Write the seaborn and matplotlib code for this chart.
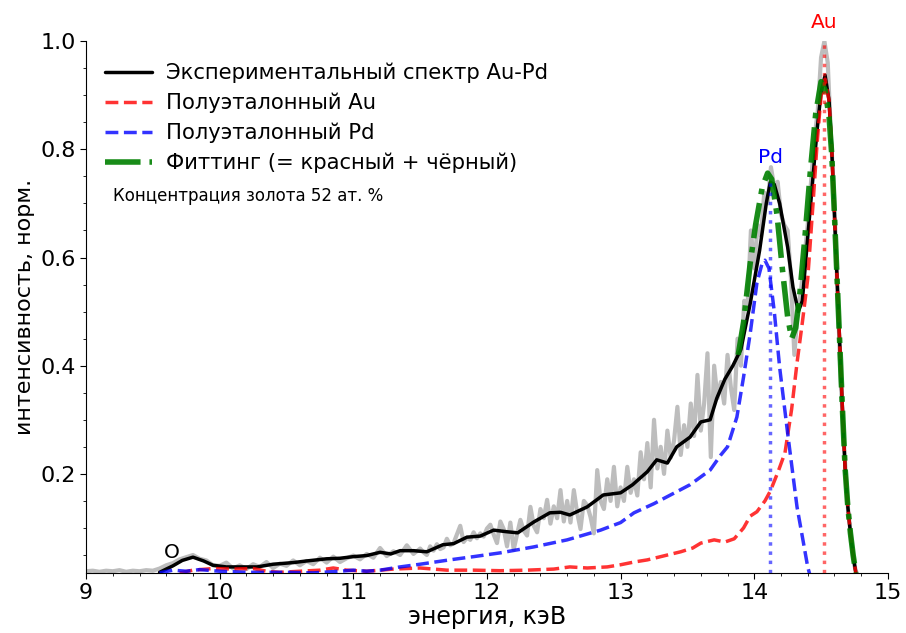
import matplotlib
matplotlib.use("Agg")
import matplotlib.pyplot as plt
from matplotlib.ticker import MultipleLocator
import seaborn as sns

# raw measured spectrum (grey, noisy)
raw_energy = [
    9.00, 9.05, 9.10, 9.15, 9.20, 9.25, 9.30, 9.35, 9.40, 9.45, 9.50,
    9.55, 9.60, 9.65, 9.70, 9.75, 9.80, 9.85, 9.90, 9.95, 10.00,
    10.05, 10.10, 10.15, 10.20, 10.25, 10.30, 10.35, 10.40, 10.45, 10.50,
    10.55, 10.60, 10.65, 10.70, 10.75, 10.80, 10.85, 10.90, 10.95, 11.00,
    11.05, 11.10, 11.15, 11.20, 11.25, 11.30, 11.35, 11.40, 11.45, 11.50,
    11.525, 11.550, 11.575, 11.600, 11.625, 11.650, 11.675, 11.700,
    11.725, 11.750, 11.775, 11.800, 11.825, 11.850, 11.875, 11.900,
    11.925, 11.950, 11.975, 12.000, 12.025, 12.050, 12.075, 12.100,
    12.125, 12.150, 12.175, 12.200, 12.225, 12.250, 12.275, 12.300,
    12.325, 12.350, 12.375, 12.400, 12.425, 12.450, 12.475, 12.500,
    12.525, 12.550, 12.575, 12.600, 12.625, 12.650, 12.675, 12.700,
    12.725, 12.750, 12.775, 12.800, 12.825, 12.850, 12.875, 12.900,
    12.925, 12.950, 12.975, 13.000, 13.025, 13.050, 13.075, 13.100,
    13.125, 13.150, 13.175, 13.200, 13.225, 13.250, 13.275, 13.300,
    13.325, 13.350, 13.375, 13.400, 13.425, 13.450, 13.475, 13.500,
    13.525, 13.550, 13.575, 13.600, 13.625, 13.650, 13.675, 13.700,
    13.725, 13.750, 13.775, 13.800, 13.825,
    13.850, 13.875, 13.900, 13.925, 13.950, 13.975, 14.000, 14.025,
    14.050, 14.075, 14.100, 14.125, 14.150, 14.175, 14.200, 14.225,
    14.250, 14.275, 14.300, 14.325, 14.350, 14.375, 14.400, 14.425,
    14.450, 14.475, 14.500, 14.525, 14.550, 14.575, 14.600, 14.625,
    14.650, 14.675, 14.700, 14.725, 14.750, 14.775, 14.800,
]
raw_counts = [
    0.020, 0.021, 0.019, 0.021, 0.020, 0.022, 0.019, 0.021, 0.020, 0.022, 0.021,
    0.025, 0.031, 0.035, 0.042, 0.046, 0.050, 0.043, 0.040, 0.031, 0.030,
    0.036, 0.025, 0.031, 0.024, 0.033, 0.028, 0.037, 0.026, 0.034, 0.030,
    0.040, 0.031, 0.039, 0.033, 0.045, 0.036, 0.047, 0.037, 0.044, 0.049,
    0.042, 0.052, 0.045, 0.063, 0.048, 0.057, 0.050, 0.068, 0.052, 0.062,
    0.055, 0.050, 0.066, 0.058, 0.070, 0.061, 0.064, 0.080,
    0.068, 0.072, 0.088, 0.104, 0.074, 0.082, 0.078, 0.092,
    0.081, 0.090, 0.084, 0.099, 0.106, 0.088, 0.072, 0.112,
    0.098, 0.066, 0.110, 0.060, 0.088, 0.115, 0.095, 0.086,
    0.139, 0.104, 0.092, 0.135, 0.118, 0.152, 0.108, 0.140,
    0.118, 0.170, 0.112, 0.150, 0.110, 0.170, 0.128, 0.098,
    0.150, 0.142, 0.120, 0.090, 0.207, 0.150, 0.135, 0.190,
    0.150, 0.213, 0.140, 0.175, 0.150, 0.213, 0.165, 0.190,
    0.160, 0.240, 0.190, 0.257, 0.175, 0.300, 0.210, 0.250,
    0.200, 0.280, 0.230, 0.262, 0.324, 0.235, 0.290, 0.250,
    0.330, 0.270, 0.383, 0.280, 0.330, 0.423, 0.231, 0.400,
    0.340, 0.370, 0.330, 0.420, 0.360,
    0.318, 0.450, 0.400, 0.520, 0.510, 0.650, 0.580, 0.660,
    0.640, 0.720, 0.700, 0.767, 0.730, 0.740, 0.680, 0.660,
    0.650, 0.560, 0.420, 0.500, 0.540, 0.600, 0.660, 0.740,
    0.820, 0.870, 0.970, 1.000, 0.960, 0.820, 0.700, 0.520,
    0.360, 0.240, 0.140, 0.080, 0.030, 0.010, 0.005,
]

# smoothed experimental Au-Pd spectrum (black)
exp_energy = [
    9.55, 9.65, 9.72, 9.80, 9.88, 9.95, 10.05, 10.15, 10.28, 10.40,
    10.55, 10.65, 10.80, 10.90, 11.00, 11.10, 11.20, 11.28, 11.35, 11.45,
    11.55, 11.67, 11.75, 11.85, 11.95, 12.05, 12.15, 12.23, 12.35, 12.47,
    12.55, 12.62, 12.75, 12.87, 13.00, 13.09, 13.20, 13.27, 13.35, 13.42,
    13.52, 13.60, 13.67, 13.72, 13.78, 13.84, 13.90, 13.97, 14.04, 14.09,
    14.12, 14.15, 14.19, 14.25, 14.29, 14.33, 14.36, 14.40, 14.44, 14.47,
    14.50, 14.53, 14.56, 14.58, 14.60, 14.62, 14.64, 14.66, 14.68, 14.70,
    14.72, 14.74, 14.76,
]
exp_counts = [
    0.018, 0.030, 0.040, 0.046, 0.039, 0.031, 0.028, 0.028, 0.028, 0.033,
    0.036, 0.039, 0.043, 0.044, 0.047, 0.049, 0.055, 0.052, 0.058, 0.058,
    0.056, 0.069, 0.071, 0.083, 0.085, 0.096, 0.093, 0.091, 0.111, 0.128,
    0.129, 0.124, 0.139, 0.161, 0.165, 0.180, 0.204, 0.226, 0.220, 0.250,
    0.268, 0.296, 0.300, 0.340, 0.375, 0.400, 0.430, 0.515, 0.613, 0.700,
    0.739, 0.735, 0.700, 0.619, 0.545, 0.500, 0.520, 0.637, 0.750, 0.835,
    0.905, 0.937, 0.890, 0.800, 0.680, 0.560, 0.440, 0.320, 0.210, 0.140,
    0.090, 0.050, 0.017,
]

# semi-standard Au (red)
au_energy = [
    9.70, 9.80, 9.95, 10.10, 10.25, 10.35, 10.45, 10.60, 10.75, 10.85,
    10.95, 11.10, 11.30, 11.50, 11.70, 11.90, 12.10, 12.30, 12.50, 12.62,
    12.75, 12.90, 13.00, 13.10, 13.20, 13.35, 13.45, 13.54, 13.60, 13.70,
    13.78, 13.85, 13.92, 13.97, 14.02, 14.08, 14.12, 14.18, 14.23, 14.28,
    14.32, 14.36, 14.40, 14.44, 14.47, 14.50, 14.53, 14.56, 14.58, 14.60,
    14.62, 14.64, 14.66, 14.68, 14.70, 14.72, 14.74, 14.76,
]
au_counts = [
    0.017, 0.022, 0.025, 0.024, 0.025, 0.020, 0.018, 0.020, 0.022, 0.026,
    0.022, 0.020, 0.024, 0.026, 0.022, 0.022, 0.021, 0.022, 0.024, 0.028,
    0.026, 0.028, 0.032, 0.037, 0.041, 0.050, 0.056, 0.063, 0.072, 0.078,
    0.074, 0.080, 0.100, 0.122, 0.130, 0.150, 0.168, 0.205, 0.239, 0.320,
    0.405, 0.480, 0.560, 0.700, 0.810, 0.900, 0.930, 0.890, 0.800, 0.680,
    0.560, 0.440, 0.320, 0.210, 0.140, 0.090, 0.050, 0.017,
]

# semi-standard Pd (blue)
pd_energy = [
    9.55, 9.65, 9.75, 9.85, 10.00, 10.20, 10.50, 10.70, 10.90, 11.00,
    11.10, 11.20, 11.35, 11.50, 11.72, 11.90, 12.10, 12.35, 12.60, 12.85,
    13.00, 13.10, 13.25, 13.35, 13.52, 13.67, 13.75, 13.80, 13.87, 13.92,
    13.97, 14.02, 14.06, 14.08, 14.11, 14.15, 14.19, 14.25, 14.32, 14.37,
    14.40, 14.42,
]
pd_counts = [
    0.017, 0.022, 0.020, 0.023, 0.020, 0.018, 0.018, 0.017, 0.020, 0.022,
    0.020, 0.022, 0.028, 0.033, 0.041, 0.047, 0.054, 0.065, 0.078, 0.096,
    0.110, 0.128, 0.145, 0.158, 0.180, 0.207, 0.235, 0.250, 0.305, 0.379,
    0.460, 0.553, 0.590, 0.595, 0.580, 0.500, 0.397, 0.275, 0.139, 0.070,
    0.028, 0.010,
]

# fit (green)
fit_energy = [
    13.88, 13.92, 13.97, 14.01, 14.06, 14.10, 14.13, 14.17, 14.21, 14.25,
    14.28, 14.31, 14.34, 14.38, 14.42, 14.46, 14.50, 14.53, 14.56, 14.58,
    14.60, 14.62, 14.64, 14.66, 14.68, 14.70, 14.72, 14.74, 14.76,
]
fit_counts = [
    0.420, 0.480, 0.590, 0.660, 0.730, 0.756, 0.745, 0.680, 0.580, 0.490,
    0.450, 0.470, 0.530, 0.640, 0.760, 0.866, 0.925, 0.910, 0.860, 0.790,
    0.680, 0.560, 0.440, 0.320, 0.210, 0.140, 0.090, 0.050, 0.017,
]

line_energies = [14.12, 14.52]
line_tops = [0.74, 1.0]

sns.set_style("ticks")
plt.rcParams["font.family"] = ["DejaVu Sans"]
plt.rcParams["text.color"] = "black"
plt.rcParams["axes.labelcolor"] = "black"
plt.rcParams["xtick.color"] = "black"
plt.rcParams["ytick.color"] = "black"
plt.rcParams["axes.edgecolor"] = "black"

fig, ax = plt.subplots(figsize=(9.06, 6.33), dpi=100)
fig.subplots_adjust(left=0.095, right=0.98, top=0.935, bottom=0.095)

sns.lineplot(x=raw_energy, y=raw_counts, ax=ax, color="#bdbdbd", lw=3,
             sort=False, zorder=1)
sns.lineplot(x=exp_energy, y=exp_counts, ax=ax, color="black", lw=2.5,
             sort=False, label="Экспериментальный спектр Au-Pd", zorder=2)
sns.lineplot(x=au_energy, y=au_counts, ax=ax, color="red", alpha=0.8, lw=2.5,
             linestyle="--", sort=False, label="Полуэталонный Au", zorder=3)
sns.lineplot(x=pd_energy, y=pd_counts, ax=ax, color="blue", alpha=0.8, lw=2.5,
             linestyle="--", sort=False, label="Полуэталонный Pd", zorder=3)
sns.lineplot(x=fit_energy, y=fit_counts, ax=ax, color="green", alpha=0.9, lw=4,
             linestyle="-.", sort=False,
             label="Фиттинг (= красный + чёрный)", zorder=4)

ax.vlines(line_energies[0], 0, line_tops[0], colors="blue", alpha=0.6,
          lw=2.5, linestyles=":", zorder=5)
ax.vlines(line_energies[1], 0, line_tops[1], colors="red", alpha=0.6,
          lw=2.5, linestyles=":", zorder=5)

ax.text(14.12, 0.775, "Pd", color="blue", fontsize=14.5, ha="center")
ax.text(14.52, 1.025, "Au", color="red", fontsize=14.5, ha="center")
ax.text(9.64, 0.045, "O", color="black", fontsize=14.5, ha="center")
ax.text(9.2, 0.705, "Концентрация золота 52 ат. %", fontsize=12)

ax.set_xlim(9, 15)
ax.set_ylim(0.017, 1.0)
ax.xaxis.set_major_locator(MultipleLocator(1))
ax.xaxis.set_minor_locator(MultipleLocator(0.2))
ax.yaxis.set_major_locator(MultipleLocator(0.2))
ax.yaxis.set_minor_locator(MultipleLocator(0.05))
ax.tick_params(which="major", labelsize=16, length=4)
ax.tick_params(which="minor", length=2.5)
ax.set_xlabel("энергия, кэВ", fontsize=17, labelpad=1)
ax.set_ylabel("интенсивность, норм.", fontsize=16)
sns.despine(ax=ax)

ax.legend(loc="upper left", frameon=False, fontsize=15.2, handlelength=2.2,
          handletextpad=0.7, labelspacing=0.45, bbox_to_anchor=(0.0, 0.995))

fig.savefig("out.png")
